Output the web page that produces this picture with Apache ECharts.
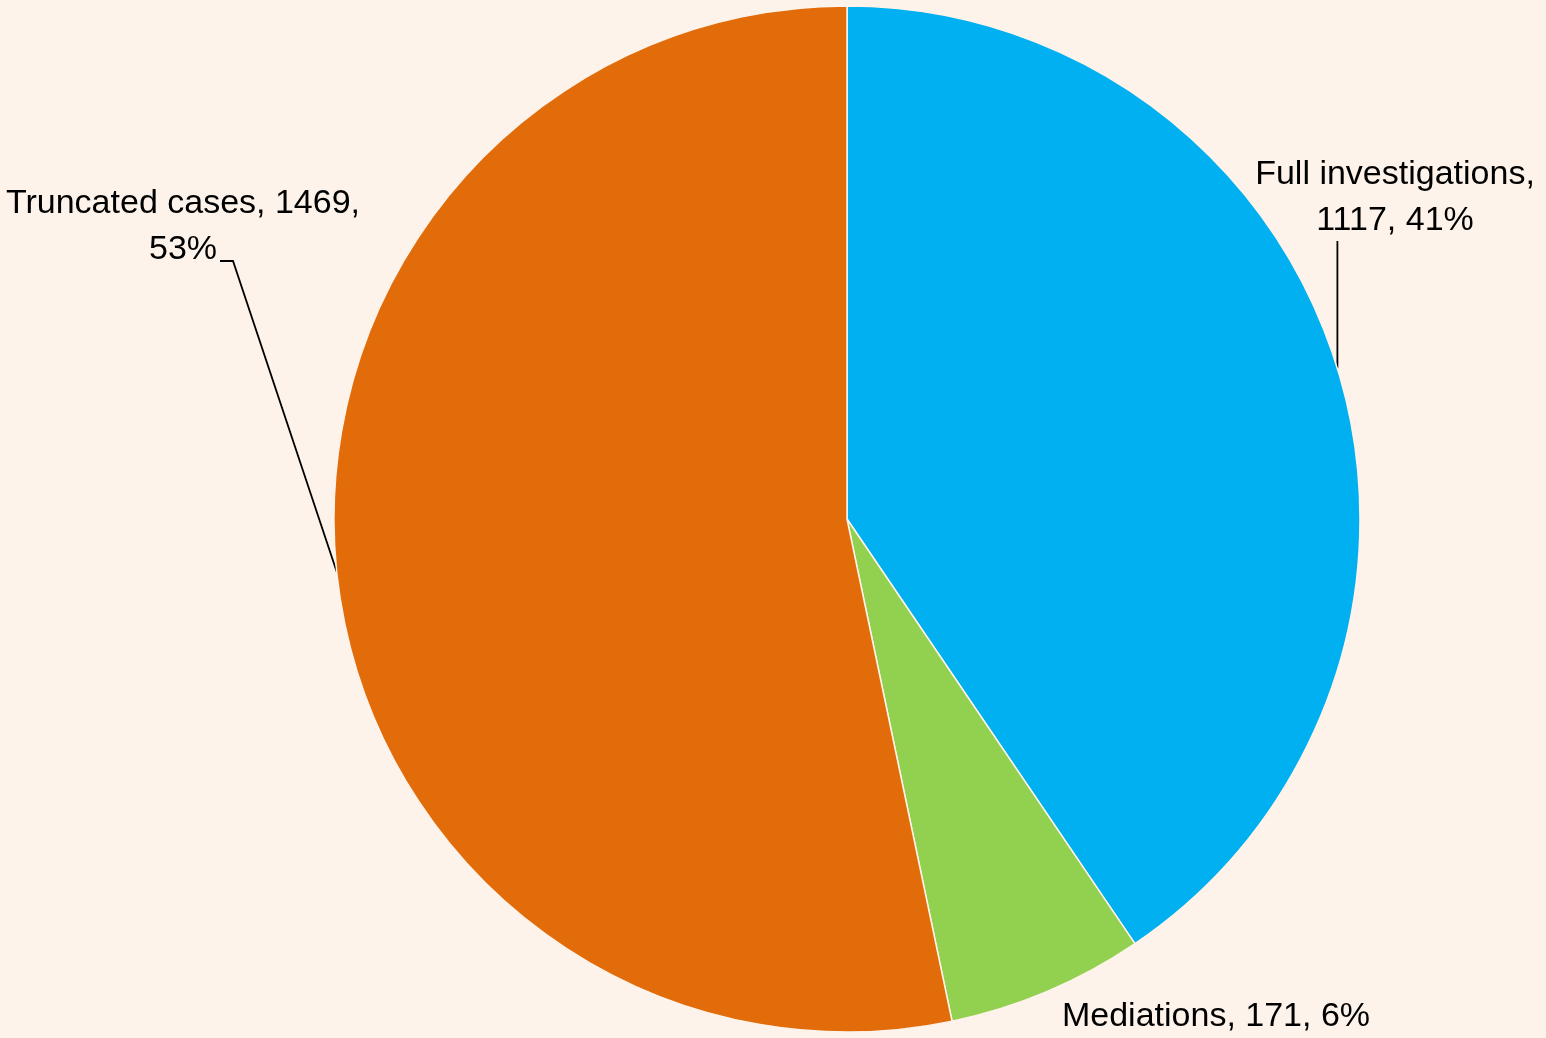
<!DOCTYPE html>
<html>
<head>
<meta charset="utf-8">
<script src="https://cdn.jsdelivr.net/npm/echarts@6/dist/echarts.min.js"></script>
<style>
html,body{margin:0;padding:0;background:#FDF3EA;}
#chart{width:1546px;height:1038px;}
</style>
</head>
<body>
<div id="chart"></div>
<script>
const categories = ['Full investigations', 'Mediations', 'Truncated cases'];
const values = [1117, 171, 1469];
const colors = ['#00B0F0', '#92D050', '#E36C0A'];
// where each label wraps: after name, none, before percent
const wrapRule = ['afterName', 'none', 'beforePercent'];
// label anchor (centre) positions
const labelAnchors = [[1395, 198], [1216, 1017], [183, 227]];
const showLine = [true, false, true];

const chart = echarts.init(document.getElementById('chart'), null, {renderer: 'canvas'});

const data = categories.map((c, i) => ({
  name: c,
  value: values[i],
  itemStyle: {color: colors[i]},
  labelLine: {show: showLine[i]}
}));

chart.setOption({
  backgroundColor: '#FDF3EA',
  animation: false,
  series: [{
    type: 'pie',
    center: [847, 519],
    radius: 513,
    startAngle: 90,
    clockwise: true,
    percentPrecision: 0,
    data: data,
    itemStyle: {borderColor: '#FDF3EA', borderWidth: 1.5},
    label: {
      show: true,
      position: 'outside',
      color: '#000',
      fontFamily: 'Liberation Sans',
      fontSize: 34,
      lineHeight: 46,
      align: 'center',
      overflow: 'none',
      width: 600,
      formatter: function (p) {
        const r = wrapRule[p.dataIndex];
        if (r === 'afterName') return p.name + ',\n' + p.value + ', ' + p.percent + '%';
        if (r === 'beforePercent') return p.name + ', ' + p.value + ',\n' + p.percent + '%';
        return p.name + ', ' + p.value + ', ' + p.percent + '%';
      }
    },
    labelLine: {show: true, lineStyle: {color: '#000', width: 1.8}, smooth: false},
    emphasis: {disabled: true}
  }]
});

chart.setOption({
  series: [{
    labelLayout: function (params) {
      const i = params.dataIndex;
      const a = labelAnchors[i];
      const h = params.labelRect.height;
      const start = params.labelLinePoints ? params.labelLinePoints[0] : null;
      let pts;
      if (start) {
        if (i === 0) {
          const yEnd = a[1] + h / 2 - 3;
          pts = [start, [start[0], yEnd], [start[0], yEnd]];
        } else if (i === 2) {
          const yEnd = a[1] + h / 2 - 12;
          pts = [start, [a[0] + 50, yEnd], [a[0] + 37, yEnd]];
        } else {
          pts = [start, start, start];
        }
      }
      return {
        x: a[0], y: a[1], align: 'center', verticalAlign: 'middle',
        labelLinePoints: pts
      };
    }
  }]
});
</script>
</body>
</html>
